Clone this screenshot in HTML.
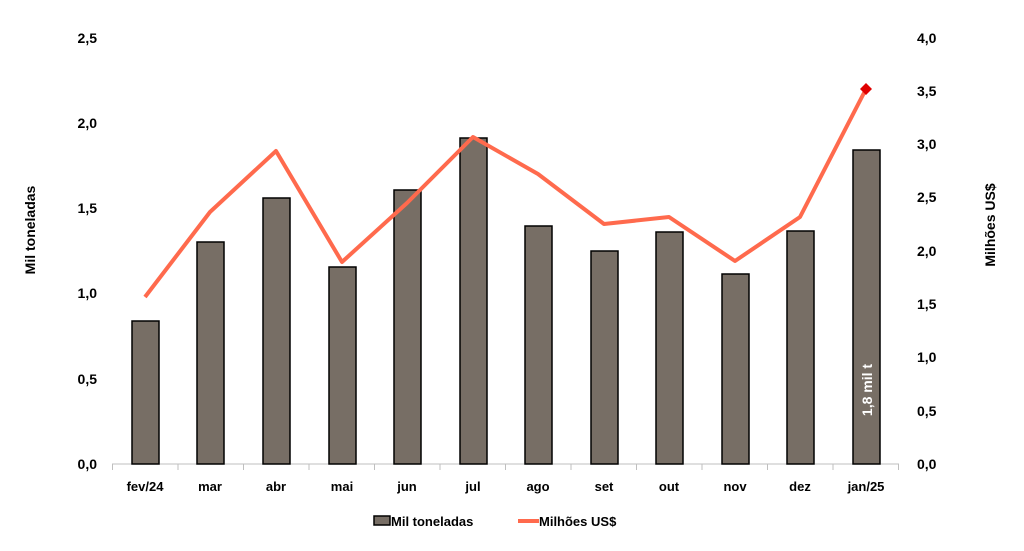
<!DOCTYPE html>
<html><head><meta charset="utf-8"><style>
html,body{margin:0;padding:0;background:#fff;}
svg{display:block;font-family:"Liberation Sans",sans-serif;font-weight:bold;}
</style></head><body>
<svg width="1024" height="551" viewBox="0 0 1024 551">
<g font-size="14" fill="#000" text-anchor="end">
<text x="97" y="43">2,5</text><text x="97" y="128">2,0</text><text x="97" y="213">1,5</text>
<text x="97" y="298">1,0</text><text x="97" y="384">0,5</text><text x="97" y="469">0,0</text>
</g>
<g font-size="14" fill="#000" text-anchor="start">
<text x="917" y="43">4,0</text><text x="917" y="96">3,5</text><text x="917" y="149">3,0</text>
<text x="917" y="202">2,5</text><text x="917" y="256">2,0</text><text x="917" y="309">1,5</text>
<text x="917" y="362">1,0</text><text x="917" y="416">0,5</text><text x="917" y="469">0,0</text>
</g>
<text font-size="14" transform="translate(35,230) rotate(-90)" text-anchor="middle">Mil toneladas</text>
<text font-size="14" transform="translate(995,225) rotate(-90)" text-anchor="middle">Milhões US$</text>
<line x1="112" y1="464" x2="899" y2="464" stroke="#bfbfbf" stroke-width="1"/>
<g stroke="#bfbfbf" stroke-width="1">
<line x1="112.5" y1="464" x2="112.5" y2="470"/><line x1="178" y1="464" x2="178" y2="470"/><line x1="243.5" y1="464" x2="243.5" y2="470"/>
<line x1="309" y1="464" x2="309" y2="470"/><line x1="374.5" y1="464" x2="374.5" y2="470"/><line x1="440" y1="464" x2="440" y2="470"/>
<line x1="505.5" y1="464" x2="505.5" y2="470"/><line x1="571" y1="464" x2="571" y2="470"/><line x1="636.5" y1="464" x2="636.5" y2="470"/>
<line x1="702" y1="464" x2="702" y2="470"/><line x1="767.5" y1="464" x2="767.5" y2="470"/><line x1="833" y1="464" x2="833" y2="470"/>
<line x1="898.5" y1="464" x2="898.5" y2="470"/>
</g>
<g fill="#776e65" stroke="#000" stroke-width="1.5">
<rect x="132" y="321" width="27" height="143"/>
<rect x="197" y="242" width="27" height="222"/>
<rect x="263" y="198" width="27" height="266"/>
<rect x="329" y="267" width="27" height="197"/>
<rect x="394" y="190" width="27" height="274"/>
<rect x="460" y="138" width="27" height="326"/>
<rect x="525" y="226" width="27" height="238"/>
<rect x="591" y="251" width="27" height="213"/>
<rect x="656" y="232" width="27" height="232"/>
<rect x="722" y="274" width="27" height="190"/>
<rect x="787" y="231" width="27" height="233"/>
<rect x="853" y="150" width="27" height="314"/>
</g>
<text font-size="14" fill="#fff" transform="translate(872,390) rotate(-90)" text-anchor="middle">1,8 mil t</text>
<polyline fill="none" stroke="#ff6a4d" stroke-width="4" stroke-linejoin="round" points="145,297 210,212 276,151 342,262 407,203 473,137 538,174 604,224 669,217 735,261 800,217 866,89"/>
<polygon points="866,83 872,89 866,95 860,89" fill="#e00000"/>
<g font-size="13" fill="#000" text-anchor="middle">
<text x="145" y="491">fev/24</text><text x="210" y="491">mar</text><text x="276" y="491">abr</text>
<text x="342" y="491">mai</text><text x="407" y="491">jun</text><text x="473" y="491">jul</text>
<text x="538" y="491">ago</text><text x="604" y="491">set</text><text x="669" y="491">out</text>
<text x="735" y="491">nov</text><text x="800" y="491">dez</text><text x="866" y="491">jan/25</text>
</g>
<rect x="374" y="516" width="16" height="9" fill="#776e65" stroke="#000" stroke-width="1.5"/>
<text x="391" y="526" font-size="13">Mil toneladas</text>
<line x1="518" y1="521" x2="539" y2="521" stroke="#ff6a4d" stroke-width="4"/>
<text x="539" y="526" font-size="13">Milhões US$</text>
</svg>
</body></html>
